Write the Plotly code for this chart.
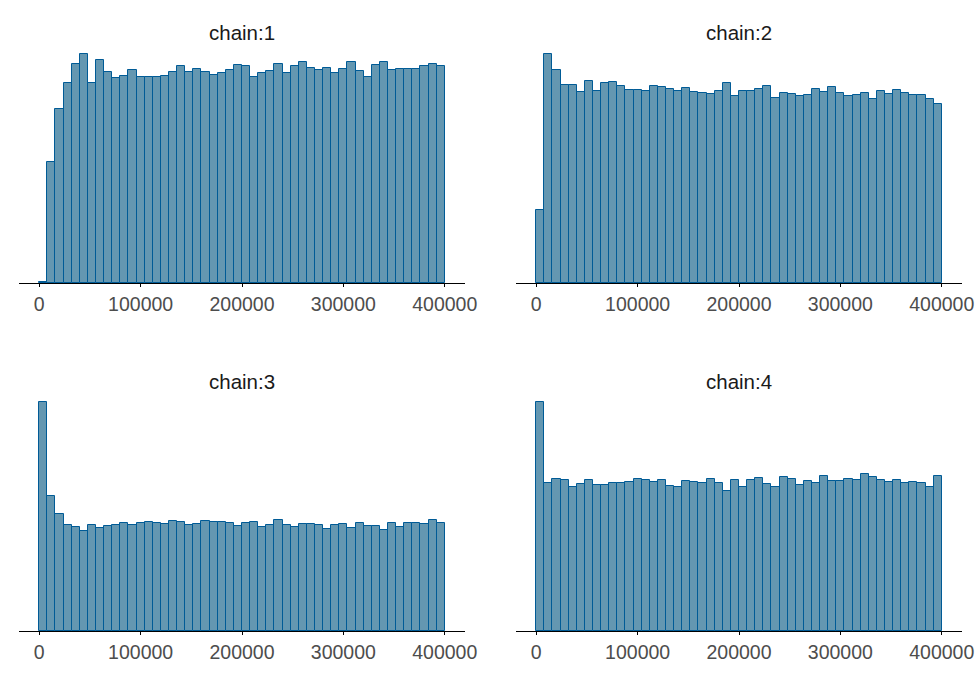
import numpy as np
import plotly.graph_objects as go

# ---- data (histogram counts per 8000-wide bin, 0..400000) ----
bin_width = 8000
bin_starts = list(range(0, 400000, bin_width))  # 50 bins

chain1 = [2, 363, 522, 602, 657, 687, 602, 670, 634, 617,
          622, 640, 618, 620, 619, 622, 633, 652, 633, 643,
          634, 624, 632, 640, 654, 653, 618, 632, 636, 658,
          631, 652, 665, 645, 639, 647, 630, 642, 665, 636,
          620, 655, 663, 639, 644, 644, 642, 653, 659, 651]

chain2 = [220, 687, 639, 594, 596, 575, 607, 578, 600, 604,
          593, 581, 581, 577, 591, 588, 582, 577, 586, 574,
          570, 568, 577, 602, 561, 578, 578, 582, 591, 557,
          571, 567, 561, 564, 582, 573, 588, 571, 561, 564,
          571, 552, 577, 568, 579, 570, 566, 566, 553, 538]

chain3 = [686, 404, 350, 318, 311, 301, 318, 310, 316, 318,
          323, 318, 323, 327, 323, 320, 331, 326, 317, 321,
          330, 327, 326, 324, 316, 323, 326, 311, 317, 332,
          318, 312, 320, 322, 318, 305, 317, 320, 310, 323,
          315, 315, 303, 325, 313, 323, 325, 320, 334, 323]

chain4 = [686, 445, 455, 452, 431, 440, 453, 437, 439, 444,
          443, 447, 455, 452, 446, 452, 434, 431, 449, 446,
          444, 457, 445, 421, 452, 431, 452, 458, 440, 431,
          461, 456, 439, 449, 443, 464, 449, 449, 455, 452,
          471, 461, 452, 446, 452, 445, 446, 445, 431, 464]

chain_names = ["chain:1", "chain:2", "chain:3", "chain:4"]
chain_counts = [chain1, chain2, chain3, chain4]
tick_values = [0, 100000, 200000, 300000, 400000]
tick_labels = ["0", "100000", "200000", "300000", "400000"]

# ---- layout geometry ----
W, H = 975, 675
x_domains = [[19 / W, 465 / W], [516 / W, 962 / W]]
y_domains = [[1 - 283 / H, 1 - 43 / H], [1 - 631 / H, 1 - 391 / H]]
title_y = [1 - 33 / H, 1 - 381 / H]

FONT = "Liberation Sans, Arial, sans-serif"
fig = go.Figure()
layout = dict(
    width=W, height=H, autosize=False,
    margin=dict(l=0, r=0, t=0, b=0, pad=0, autoexpand=False),
    paper_bgcolor="white", plot_bgcolor="white",
    showlegend=False, bargap=0,
    font=dict(family=FONT),
    annotations=[],
)

centers = [s + bin_width / 2 for s in bin_starts]
for i, (name, counts) in enumerate(zip(chain_names, chain_counts)):
    row, col = divmod(i, 2)
    ax = "" if i == 0 else str(i + 1)
    fig.add_trace(go.Bar(
        x=centers, y=counts, width=bin_width,
        marker=dict(color="#6497b1", line=dict(color="#005b96", width=1)),
        xaxis="x" + ax, yaxis="y" + ax, hoverinfo="skip",
    ))
    layout["xaxis" + ax] = dict(
        domain=x_domains[col], anchor="y" + ax,
        range=[-20000, 420000],
        showline=True, linecolor="black", linewidth=1.3,
        ticks="outside", ticklen=3, tickwidth=1, tickcolor="black",
        tickvals=tick_values, ticktext=tick_labels,
        tickfont=dict(size=19.5, color="#4d4d4d", family=FONT),
        showgrid=False, zeroline=False,
    )
    layout["yaxis" + ax] = dict(
        domain=y_domains[row], anchor="x" + ax,
        range=[0, max(counts) * 1.05],
        showticklabels=False, showgrid=False, zeroline=False,
        showline=False, ticks="",
    )
    layout["annotations"].append(dict(
        text=name, x=sum(x_domains[col]) / 2, y=title_y[row],
        xref="paper", yref="paper", showarrow=False,
        xanchor="center", yanchor="middle",
        font=dict(size=20.5, color="#1a1a1a", family=FONT),
    ))

fig.update_layout(**layout)
fig.write_html("out.html", config={"responsive": False})
